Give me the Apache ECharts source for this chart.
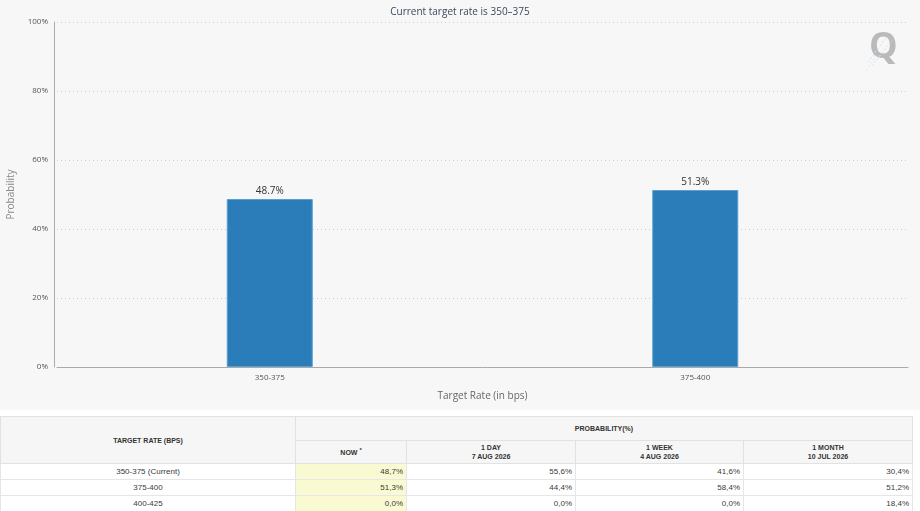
<!DOCTYPE html>
<html>
<head>
<meta charset="utf-8">
<script src="https://cdn.jsdelivr.net/npm/echarts@6/dist/echarts.min.js"></script>
<style>
	html, body { margin: 0; padding: 0; background: #fff; width: 920px; height: 511px; overflow: hidden; }
	#chartWrapper { width: 920px; height: 410px; background: #f7f7f7; }
	#gridTable { position: absolute; left: 0; top: 416px; width: 912px; border-collapse: collapse; table-layout: fixed;
		font-family: "Liberation Sans", Arial, sans-serif; color: #333; }
	#gridTable th { background: #f6f6f6; border: 1px solid #e2e2e2; font-size: 7px; font-weight: bold; text-transform: uppercase; padding: 0; line-height: 9px; }
	#gridTable td { border: 1px solid #e6e6e6; font-size: 8px; height: 15px; padding: 0 3px; text-align: right; color: #3a3a3a; }
	#gridTable td.rate { text-align: center; }
	#gridTable td.now { background: #f9f9d2; }
</style>
</head>
<body>
<div id="chartWrapper"></div>
<table id="gridTable"></table>
<script>
const categories = ["350-375", "375-400"] //X軸
const probability = [48.7, 51.3] //目前機率
const yTicks = [0, 20, 40, 60, 80, 100]

// 表格資料
const tableRates = ["350-375 (Current)", "375-400", "400-425"]
const colHeads = ["NOW <sup>*</sup>", "1 DAY<br>7 AUG 2026", "1 WEEK<br>4 AUG 2026", "1 MONTH<br>10 JUL 2026"]
const nowCol = ["48,7%", "51,3%", "0,0%"]
const dayCol = ["55,6%", "44,4%", "0,0%"]
const weekCol = ["41,6%", "58,4%", "0,0%"]
const monthCol = ["30,4%", "51,2%", "18,4%"]

const myChart = echarts.init(document.getElementById("chartWrapper"));
let option = {
	backgroundColor: "#f7f7f7",
	textStyle: { fontFamily: "Open Sans" },
	title: {
		text: "Current target rate is 350–375",
		left: "center",
		top: 2,
		textStyle: { fontSize: 10, fontWeight: "normal", color: "#3b4a5e", fontFamily: "Open Sans" }
	},
	grid: { left: 57, right: 12, top: 22, bottom: 43, outerBoundsMode: "none" },
	xAxis: {
		type: "category",
		data: categories,
		name: "Target Rate (in bps)",
		nameLocation: "middle",
		nameGap: 24,
		nameTextStyle: { fontSize: 10, color: "#666" },
		axisLine: { lineStyle: { color: "#aaa" } },
		axisTick: { alignWithLabel: true, length: 4, lineStyle: { color: "#ccc" } },
		axisLabel: { fontSize: 8, color: "#555", margin: 7 }
	},
	yAxis: {
		type: "value",
		min: yTicks[0],
		max: yTicks[yTicks.length - 1],
		interval: 20,
		offset: 3,
		name: "Probability",
		nameLocation: "middle",
		nameGap: 38,
		nameTextStyle: { fontSize: 10, color: "#888" },
		axisLine: { show: true, lineStyle: { color: "#aaa" } },
		axisTick: { show: false },
		axisLabel: { fontSize: 8, color: "#555", formatter: "{value}%", margin: 6 },
		splitLine: { lineStyle: { color: "#ccc", type: [1, 3] } }
	},
	graphic: [
		{ type: "text", left: 869, top: 30, style: { text: "Q", fontSize: 36, fontWeight: "bold", fill: "#bababa", fontFamily: "Open Sans" } },
		{ type: "line", shape: { x1: 868, y1: 62, x2: 886, y2: 38 }, style: { stroke: "#cfe6f5", lineWidth: 1, lineDash: [2, 2] } },
		{ type: "line", shape: { x1: 872, y1: 66, x2: 892, y2: 40 }, style: { stroke: "#cfe6f5", lineWidth: 1, lineDash: [2, 2] } },
		{ type: "line", shape: { x1: 866, y1: 70, x2: 878, y2: 54 }, style: { stroke: "#d9ecf8", lineWidth: 1, lineDash: [2, 2] } }
	],
	series: [{
		type: "bar",
		data: probability,
		barWidth: 86,
		itemStyle: { color: "#2a7db8", borderColor: "#5a9fd0", borderWidth: 1 },
		label: {
			show: true,
			position: "top",
			distance: 3,
			fontSize: 10,
			color: "#333",
			formatter: (p) => p.value.toFixed(1) + "%"
		}
	}]
};
myChart.setOption(option);

// 產生表格
function updateTable() {
	const table = document.getElementById("gridTable");
	const cols = [nowCol, dayCol, weekCol, monthCol];
	let html = `
		<colgroup><col style="width:295px"><col style="width:111px"><col style="width:169px"><col style="width:168px"><col style="width:169px"></colgroup>
		<thead>
			<tr style="height:24px"><th rowspan="2">Target Rate (BPS)</th><th colspan="4">Probability(%)</th></tr>
			<tr style="height:23px">${colHeads.map(h => `<th>${h}</th>`).join("")}</tr>
		</thead>
		<tbody>
			${tableRates.map((rate, i) => `
				<tr><td class="rate">${rate}</td>${cols.map((c, j) => `<td class="${j === 0 ? "now" : ""}">${c[i]}</td>`).join("")}</tr>
			`).join("")}
		</tbody>`;
	table.innerHTML = html;
}
updateTable();
</script>
</body>
</html>
